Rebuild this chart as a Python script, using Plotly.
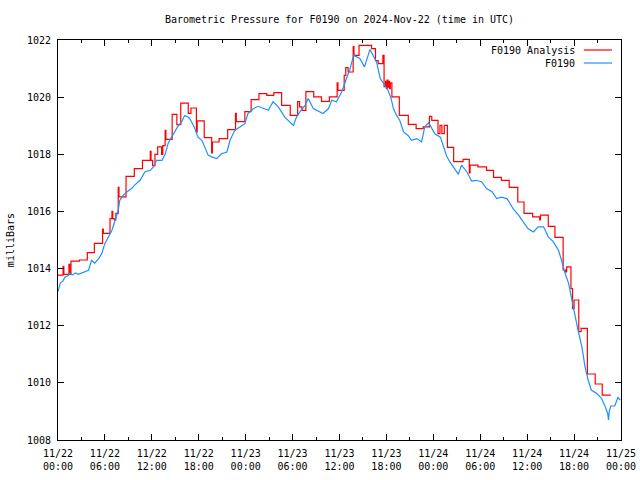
import pandas as pd
import plotly.graph_objects as go

# ---- data (hours since 2024-11-22 00:00 UTC, pressure in mbar) ----
analysis_hours = [0.0, 0.65, 0.75, 1.4, 1.5, 1.66, 2.73, 3.75, 4.65, 5.7, 5.8, 6.65, 6.9, 7.0, 7.2, 7.4,
                  7.7, 7.8, 8.7, 9.76, 10.8, 11.8, 11.9, 12.1, 12.4, 12.75, 13.25, 13.4, 13.7, 13.8,
                  14.6, 15.2, 15.7, 16.66, 17.0, 17.7, 17.8, 18.7, 19.65, 19.75, 20.6, 21.7, 22.7,
                  22.8, 23.9, 24.7, 25.7, 26.7, 27.6, 28.6, 29.7, 30.65, 30.9, 31.2, 31.7, 32.7,
                  33.7, 34.7, 35.7, 35.8, 36.6, 36.8, 37.1, 37.75, 37.85, 38.5, 40.1, 40.6, 40.95,
                  41.55, 41.7, 41.9, 42.0, 42.1, 42.2, 42.3, 42.4, 42.5, 42.7, 43.65, 44.8, 45.8,
                  46.7, 47.5, 47.8, 48.6, 48.85, 49.1, 49.4, 49.8, 50.6, 51.8, 52.6, 52.7, 53.7,
                  54.8, 55.7, 56.7, 57.7, 58.8, 59.6, 60.7, 61.6, 61.7, 62.7, 63.55, 64.6, 64.9,
                  65.05, 65.6, 65.8, 66.0, 66.6, 66.9, 67.7, 68.7, 69.6, 70.7]
analysis_values = [1013.77, 1014.08, 1013.80, 1014.15, 1013.80, 1014.26, 1014.30, 1014.56, 1014.88,
                   1015.38, 1015.23, 1015.75, 1016.00, 1015.75, 1015.70, 1015.93, 1016.84, 1016.51,
                   1017.23, 1017.50, 1017.79, 1018.10, 1017.79, 1017.60, 1018.00, 1018.26, 1018.00,
                   1018.30, 1018.84, 1018.52, 1019.40, 1019.04, 1019.79, 1019.43, 1019.62, 1018.78,
                   1019.17, 1018.58, 1018.05, 1018.43, 1018.55, 1018.86, 1019.43, 1019.14, 1019.49,
                   1019.91, 1020.12, 1020.06, 1020.16, 1019.71, 1019.36, 1019.84, 1019.66, 1019.54,
                   1020.19, 1020.01, 1019.85, 1020.01, 1020.50, 1020.24, 1020.76, 1021.03, 1020.88,
                   1021.77, 1021.46, 1021.81, 1021.70, 1021.28, 1021.17, 1021.46, 1020.37, 1020.55,
                   1020.30, 1020.60, 1020.35, 1020.55, 1020.30, 1020.50, 1020.01, 1019.36, 1019.05,
                   1018.90, 1018.96, 1019.33, 1019.19, 1018.72, 1019.01, 1018.72, 1019.01, 1018.24,
                   1017.74, 1017.82, 1017.35, 1017.62, 1017.56, 1017.44, 1017.19, 1017.09, 1016.84,
                   1016.33, 1015.93, 1015.81, 1015.70, 1015.87, 1015.48, 1015.09, 1013.95, 1013.88,
                   1014.06, 1013.30, 1012.60, 1012.90, 1011.79, 1011.91, 1010.31, 1009.96, 1009.57,
                   1009.57]

station_hours = [0.0, 0.3, 0.6, 0.9, 1.3, 1.5, 1.9, 2.2, 2.6, 3.0, 3.4, 3.9, 4.3, 4.7, 5.2, 5.6, 6.0,
                 6.4, 6.9, 7.3, 7.7, 7.9, 8.35, 8.8, 9.4, 9.8, 10.5, 11.1, 11.8, 12.2, 12.6, 13.3,
                 13.7, 14.1, 14.5, 14.96, 15.4, 15.8, 16.2, 16.7, 17.1, 17.5, 17.9, 18.4, 18.8, 19.2,
                 19.65, 20.3, 20.9, 21.6, 22.0, 22.6, 23.3, 23.9, 24.3, 25.0, 25.6, 26.3, 26.9, 27.5,
                 28.2, 29.0, 29.7, 30.1, 30.5, 30.95, 31.6, 32.0, 32.65, 33.3, 33.9, 34.6, 35.0, 35.6,
                 36.3, 36.9, 37.3, 37.8, 38.2, 38.6, 39.2, 39.9, 40.3, 40.75, 41.2, 41.8, 42.2, 42.6,
                 42.9, 43.3, 43.7, 44.2, 44.8, 45.2, 45.9, 46.5, 46.9, 47.4, 47.8, 48.2, 48.9, 49.3,
                 49.7, 50.1, 50.6, 51.2, 51.6, 52.3, 52.9, 53.5, 54.2, 54.8, 55.5, 56.1, 56.7, 57.4,
                 57.7, 58.2, 58.9, 59.5, 60.1, 60.8, 61.4, 62.1, 62.7, 63.3, 64.0, 64.4, 64.8, 65.3,
                 65.7, 66.1, 66.5, 67.0, 67.4, 67.8, 68.2, 68.9, 69.5, 69.9, 70.3, 70.4, 70.5, 70.7,
                 71.2, 71.6, 71.9]
station_values = [1013.20, 1013.50, 1013.55, 1013.71, 1013.75, 1013.83, 1013.78, 1013.85, 1013.80,
                  1013.85, 1013.90, 1013.94, 1014.29, 1014.19, 1014.35, 1014.53, 1014.88, 1015.11,
                  1015.34, 1015.69, 1016.04, 1016.39, 1016.57, 1016.68, 1016.80, 1016.92, 1017.09,
                  1017.38, 1017.44, 1017.56, 1017.79, 1017.79, 1018.00, 1018.40, 1018.60, 1018.84,
                  1019.01, 1019.13, 1019.36, 1019.30, 1019.13, 1018.90, 1018.60, 1018.49, 1018.26,
                  1017.97, 1017.91, 1017.85, 1018.02, 1018.08, 1018.49, 1018.84, 1018.96, 1019.07,
                  1019.43, 1019.60, 1019.68, 1019.60, 1019.54, 1019.84, 1019.65, 1019.30, 1019.13,
                  1019.01, 1019.30, 1019.49, 1019.71, 1019.95, 1019.60, 1019.50, 1019.43, 1019.60,
                  1019.89, 1019.84, 1020.19, 1020.66, 1020.94, 1021.46, 1021.40, 1021.35, 1021.06,
                  1021.67, 1021.46, 1021.23, 1020.66, 1020.42, 1020.24, 1019.95, 1019.60, 1019.36,
                  1019.19, 1018.78, 1018.65, 1018.49, 1018.55, 1018.43, 1018.96, 1019.10, 1018.90,
                  1018.72, 1018.60, 1018.28, 1017.94, 1017.74, 1017.56, 1017.30, 1017.62, 1017.38,
                  1017.06, 1017.09, 1017.03, 1016.80, 1016.69, 1016.45, 1016.50, 1016.45, 1016.33,
                  1016.10, 1015.87, 1015.63, 1015.40, 1015.28, 1015.46, 1015.46, 1015.11, 1014.95,
                  1014.64, 1014.29, 1013.88, 1013.48, 1012.90, 1012.37, 1011.85, 1011.26, 1010.56,
                  1010.10, 1009.75, 1009.63, 1009.46, 1009.22, 1008.93, 1008.70, 1009.00, 1009.19,
                  1009.19, 1009.49, 1009.40]

tick_hours = list(range(0, 73, 6))
tick_labels = ["11/22<br>00:00", "11/22<br>06:00", "11/22<br>12:00", "11/22<br>18:00",
               "11/23<br>00:00", "11/23<br>06:00", "11/23<br>12:00", "11/23<br>18:00",
               "11/24<br>00:00", "11/24<br>06:00", "11/24<br>12:00", "11/24<br>18:00",
               "11/25<br>00:00"]
series_names = ["F0190 Analysis", "F0190"]

# ---- build figure ----
base = pd.Timestamp("2024-11-22 00:00")
to_time = lambda hrs: [base + pd.Timedelta(hours=h) for h in hrs]

FONT = "DejaVu Sans Mono"
RED = "#ff0000"
BLUE = "#1e90ff"
W, H = 640, 480

fig = go.Figure()
fig.add_trace(go.Scatter(x=to_time(analysis_hours), y=analysis_values, mode="lines",
                         line=dict(color=RED, width=1.2, shape="hv"), name=series_names[0],
                         showlegend=False))
fig.add_trace(go.Scatter(x=to_time(station_hours), y=station_values, mode="lines",
                         line=dict(color=BLUE, width=1.2), name=series_names[1],
                         showlegend=False))

# legend drawn gnuplot-style: text followed by the line sample
for i, (name, col) in enumerate(zip(series_names, [RED, BLUE])):
    ypos = 0.975 - i * 0.0325
    fig.add_annotation(xref="paper", yref="paper", x=0.922, y=ypos, text=name,
                       showarrow=False, xanchor="right", yanchor="middle",
                       font=dict(family=FONT, size=10, color="black"))
    fig.add_shape(type="line", xref="paper", yref="paper", x0=0.934, x1=0.984,
                  y0=ypos, y1=ypos, line=dict(color=col, width=1.2))

fig.add_annotation(xref="paper", yref="paper", x=-0.085, y=0.5, text="milliBars",
                   textangle=-90, showarrow=False, xanchor="center", yanchor="middle",
                   font=dict(family=FONT, size=10, color="black"))

fig.update_layout(
    width=W, height=H,
    margin=dict(l=58, r=19, t=40, b=40, autoexpand=False),
    paper_bgcolor="white", plot_bgcolor="white",
    font=dict(family=FONT, size=10, color="black"),
    title=dict(text="Barometric Pressure for F0190 on 2024-Nov-22 (time in UTC)",
               x=0.5, xref="paper", xanchor="center", y=1 - 19 / H, yanchor="middle",
               font=dict(family=FONT, size=10, color="black")),
    showlegend=False,
)
fig.update_xaxes(
    range=[base, base + pd.Timedelta(hours=72)], automargin=False,
    tickvals=to_time(tick_hours), ticktext=tick_labels, ticklabelstandoff=4,
    ticks="inside", ticklen=6, tickcolor="black", mirror="allticks",
    showline=True, linecolor="black", linewidth=1, showgrid=False, zeroline=False,
    minor=dict(dtick=3 * 3600 * 1000, ticks="inside", ticklen=3, tickcolor="black", showgrid=False),
    tickfont=dict(family=FONT, size=10, color="black"),
)
fig.update_yaxes(
    range=[1008, 1022], dtick=2, tick0=1008, automargin=False, ticklabelstandoff=4,
    ticks="inside", ticklen=6, tickcolor="black", mirror="allticks",
    showline=True, linecolor="black", linewidth=1, showgrid=False, zeroline=False,
    tickfont=dict(family=FONT, size=10, color="black"),
)

# remove the browser's default 8px body margin so the 640x480 figure fills the window
fig.write_html("out.html", config={"displayModeBar": False},
               post_script="document.body.style.margin='0';document.body.style.overflow='hidden';")
